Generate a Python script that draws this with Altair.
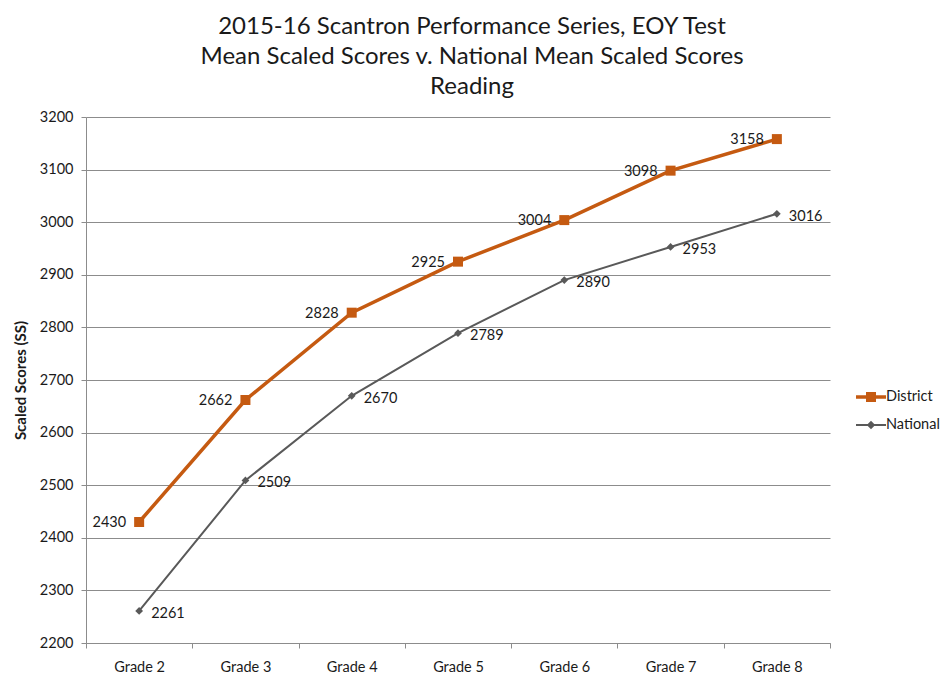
import altair as alt
import pandas as pd

grades = ["Grade 2", "Grade 3", "Grade 4", "Grade 5", "Grade 6", "Grade 7", "Grade 8"]
district = [2430, 2662, 2828, 2925, 3004, 3098, 3158]
national = [2261, 2509, 2670, 2789, 2890, 2953, 3016]
series_names = ["District", "National"]
colors = ["#C55A11", "#595959"]

rows = []
for g, d, n in zip(grades, district, national):
    rows.append({"grade": g, "series": "District", "value": d})
    rows.append({"grade": g, "series": "National", "value": n})
df = pd.DataFrame(rows)

FONT = "Lato"
TXT = "#1a1a1a"

x_enc = alt.X(
    "grade:N",
    sort=grades,
    bandPosition=0.5,
    scale=alt.Scale(type="band", paddingInner=0, paddingOuter=0),
    axis=alt.Axis(
        title=None, tickBand="extent", labelAngle=0, labelFontSize=14.5, labelColor=TXT,
        labelFont=FONT, tickSize=5, tickColor="#8c8c8c", domainColor="#8c8c8c",
        labelPadding=12, grid=False,
    ),
)
y_enc = alt.Y(
    "value:Q",
    scale=alt.Scale(domain=[2200, 3200], nice=False, zero=False),
    axis=alt.Axis(
        title="Scaled Scores (SS)", values=list(range(2200, 3201, 100)), format="d",
        labelFontSize=14.5, labelColor=TXT, labelFont=FONT, tickSize=5, tickColor="#8c8c8c",
        domainColor="#8c8c8c", gridColor="#8c8c8c", gridWidth=1, labelPadding=8,
        titleFont=FONT, titleFontSize=15, titleFontWeight="bold", titleColor=TXT,
        titlePadding=11,
    ),
)
color_scale = alt.Scale(domain=series_names, range=colors)

base = alt.Chart(df)

lines = base.mark_line().encode(
    x=x_enc, y=y_enc,
    color=alt.Color("series:N", scale=color_scale, legend=None),
    strokeWidth=alt.StrokeWidth("series:N", scale=alt.Scale(domain=series_names, range=[3.5, 2]), legend=None),
)

points = base.mark_point(filled=True, opacity=1).encode(
    x=x_enc, y=y_enc,
    color=alt.Color("series:N", scale=color_scale, legend=None),
    shape=alt.Shape("series:N", scale=alt.Scale(domain=series_names, range=["square", "diamond"]), legend=None),
    size=alt.Size("series:N", scale=alt.Scale(domain=series_names, range=[100, 60]), legend=None),
)

leg = alt.Legend(
    title=None, orient="none", legendX=775, legendY=270, symbolSize=400,
    symbolOpacity=1, symbolStrokeWidth=0, labelFontSize=14.5, labelFont=FONT,
    labelColor=TXT, rowPadding=11, labelOffset=5,
)

legend_layer = base.mark_point(filled=True, opacity=0).encode(
    x=x_enc, y=y_enc,
    color=alt.Color("series:N", scale=color_scale, legend=leg),
    shape=alt.Shape(
        "series:N",
        scale=alt.Scale(
            domain=series_names,
            range=[
                "M-1.5,-0.18H1.5V0.18H-1.5Z M-0.5,-0.5H0.5V0.5H-0.5Z",
                "M-1.5,-0.1H1.5V0.1H-1.5Z M0,-0.42L0.42,0L0,0.42L-0.42,0Z",
            ],
        ),
        legend=leg,
    ),
)

dist_labels = base.transform_filter(alt.datum.series == "District").mark_text(
    align="right", baseline="middle", dx=-13, dy=1, fontSize=14.5, font=FONT, color=TXT
).encode(x=x_enc, y=y_enc, text=alt.Text("value:Q", format="d"))

nat_labels = base.transform_filter(alt.datum.series == "National").mark_text(
    align="left", baseline="middle", dx=12, dy=3, fontSize=14.5, font=FONT, color=TXT
).encode(x=x_enc, y=y_enc, text=alt.Text("value:Q", format="d"))

chart = (
    alt.layer(lines, points, legend_layer, dist_labels, nat_labels)
    .resolve_scale(shape="independent", size="independent", color="independent", strokeWidth="independent")
    .properties(
        width=744,
        height=526,
        autosize=alt.AutoSizeParams(type="none"),
        padding={"left": 78, "top": 109, "right": 110, "bottom": 30},
        title=alt.TitleParams(
            text=[
                "2015-16 Scantron Performance Series, EOY Test",
                "Mean Scaled Scores v. National Mean Scaled Scores",
                "Reading",
            ],
            font=FONT, fontSize=24, fontWeight="normal", color=TXT,
            lineHeight=30, anchor="middle", offset=10, dx=14,
        ),
    )
    .configure_view(stroke=None)
    .configure_axisY(titleFontSize=15, titleFont=FONT, titleFontWeight="bold", titleColor=TXT)
)

chart.save("out.html", embed_options={"renderer": "svg", "actions": False})
